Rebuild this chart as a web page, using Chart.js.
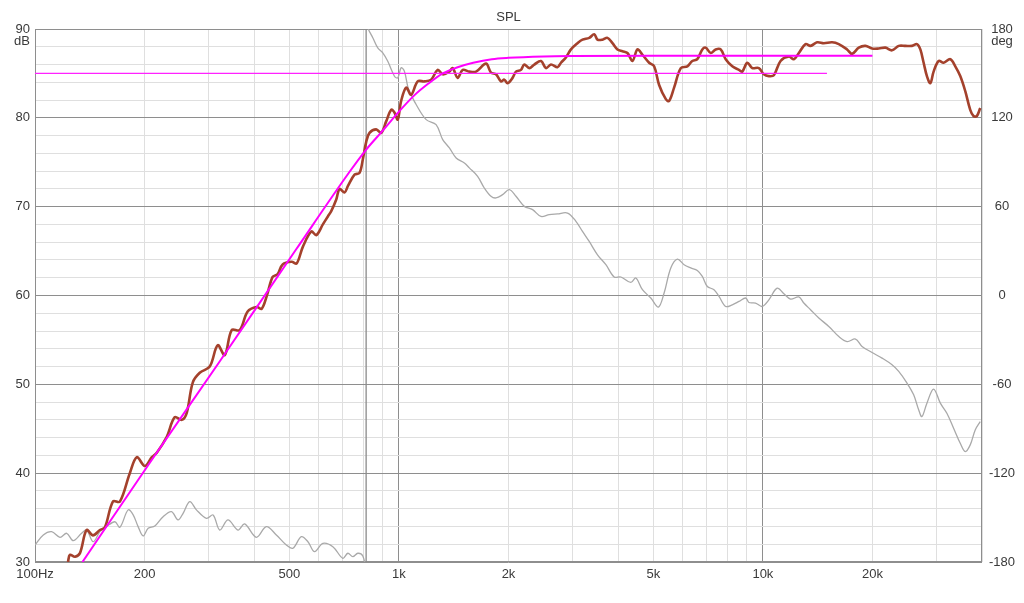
<!DOCTYPE html>
<html>
<head>
<meta charset="utf-8">
<script src="https://cdn.jsdelivr.net/npm/chart.js@4.4.1/dist/chart.umd.min.js"></script>
<style>
  html, body { margin: 0; padding: 0; background: #ffffff; }
  #wrap { width: 1024px; height: 603px; }
</style>
</head>
<body>
<div id="wrap"><canvas id="c" width="1024" height="603"></canvas></div>
<script>
// ---- Data ----
const splFreq = [123.2,124.7,128.8,132.9,138.6,144.3,150.8,155.6,163.7,171.1,182.2,190.5,200.3,209.4,216.1,230.2,242.1,253.1,261.2,271.3,283.6,302.1,317.7,332.1,347.1,365.1,384.0,406.5,419.5,433.0,449.7,464.2,479.1,507.1,523.4,544.7,574.4,592.8,618.0,637.8,651.6,672.6,686.7,708.9,723.7,755.0,779.2,795.6,812.9,830.0,865.9,893.7,922.4,952.1,972.0,992.5,1014,1047,1080,1126,1175,1226,1278,1319,1376,1405,1450,1497,1561,1629,1735,1790,1848,1907,1947,1988,2052,2097,2164,2210,2281,2354,2456,2535,2616,2727,2787,2876,2969,3095,3194,3333,3440,3512,3625,3741,3861,3985,4113,4245,4381,4522,4667,4869,5025,5187,5411,5525,5702,5949,6202,6400,6605,6817,6965,7189,7419,7657,7903,8240,8596,8777,9059,9350,9748,10063,10386,10719,11183,11786,12164,12555,13096,13517,14093,14702,15494,16165,17035,17582,18343,19136,19951,20814,21714,22639,23619,24640,25690,26510,27080,27650,28230,28850,29450,30400,31370,32730,33780,34860,35980,37130,37910,38710,39550];
const splDb = [30.0,30.8,30.6,31.0,33.6,33.0,33.6,33.9,36.8,36.8,40.0,41.8,40.8,41.8,42.3,44.1,46.3,46.0,46.8,50.2,51.3,52.0,54.4,53.3,56.1,56.1,58.2,58.7,58.5,59.9,62.1,62.4,63.5,63.8,63.6,65.5,67.2,66.8,68.0,68.9,69.5,70.8,72.0,71.6,72.3,73.6,73.8,75.3,77.3,78.3,78.7,78.3,79.6,80.9,80.6,79.8,81.9,83.4,82.6,84.1,84.1,84.3,85.4,84.9,85.2,85.6,84.5,85.4,85.2,85.2,86.1,85.1,84.9,84.1,84.3,83.9,84.5,85.2,85.4,86.0,85.6,86.0,86.4,85.6,86.0,85.7,86.2,86.8,87.7,88.4,88.8,89.0,89.4,88.8,88.8,89.0,88.4,87.7,87.5,87.3,86.4,87.7,87.1,86.2,85.8,83.7,82.1,81.9,83.4,85.6,85.8,86.4,86.6,87.7,87.9,87.3,87.7,87.7,86.6,85.8,85.4,85.2,86.2,85.6,85.6,84.9,84.7,84.8,86.4,86.9,86.6,87.3,88.3,88.1,88.5,88.4,88.5,88.3,87.7,87.2,87.9,88.1,87.8,87.8,87.9,87.6,88.1,88.1,88.1,88.3,87.7,86.2,84.7,83.9,85.2,86.4,86.2,86.6,85.8,84.7,83.0,80.9,80.2,80.2,81.1];

const targetFreq = [135,207,322,522,731,812,900,1000,1100,1200,1320,1450,1600,1800,2000,2500,3000,5000,20000];
const targetDb   = [30.0,41.2,52.6,65.2,73.9,76.4,78.5,80.7,82.5,83.8,85.0,85.7,86.2,86.6,86.75,86.9,86.95,87.0,87.0];

const refFreq = [100, 15000];
const refDb   = [85, 85];

const phaseFreq = [100,105.4,111.1,117.1,122.2,127.4,134.3,138.6,144.5,150.8,157.3,165.8,171.1,180.3,186.1,192.0,198.2,204.6,213.4,224.9,237.1,247.2,255.2,266.2,277.7,295.9,308.5,321.8,339.1,361.2,376.8,405.7,432.2,460.4,490.4,511.3,539.2,562.2,586.5,618.0,658.3,701.3,723.7,746.9,770.9,795.6,812.0,812.5,824.8,847.5,874.7,902.8,931.8,972.0,992.5,1014,1035,1057,1069,1115,1188,1265,1319,1376,1436,1513,1561,1645,1716,1790,1848,1927,2010,2097,2210,2329,2456,2588,2727,2906,3064,3194,3333,3512,3704,3903,4072,4337,4476,4667,4921,5164,5353,5584,5823,6074,6336,6605,6817,7036,7340,7576,7903,8240,8596,8968,9157,9547,9956,10386,10945,11419,11912,12555,12956,13517,14245,15174,16165,17035,17964,18730,19951,21253,22639,23619,24890,25960,26790,27350,28230,29450,30730,32030,33420,34860,35980,37130,38320,39550];
const phaseDeg = [-168.5,-161.7,-159.5,-163.3,-160.6,-165.6,-160.6,-158.4,-166.3,-159.5,-156.1,-152.8,-156.5,-144.8,-148.2,-156.1,-162.4,-157.2,-155.7,-149.4,-146.0,-151.6,-147.1,-139.2,-144.8,-150.5,-148.2,-158.4,-151.6,-158.4,-154.3,-163.3,-156.1,-161.7,-168.5,-170.7,-162.9,-166.3,-173.0,-167.4,-169.7,-177.5,-174.1,-176.4,-174.1,-175.9,-185,185,179.7,174.1,167.3,163.9,158.2,148.1,147.0,153.8,151.5,141.3,137.9,129.0,118.8,115.4,105.3,99.7,92.9,89.5,86.2,80.5,72.6,67.0,65.9,68.1,71.5,67.0,60.2,58.0,53.4,54.6,55.1,55.7,50.1,43.3,36.5,27.5,20.8,12.5,12.5,8.8,11.8,3.9,-1.7,-7.8,1.7,18.6,24.6,20.8,18.6,16.9,12.9,6.1,3.9,-0.6,-7.4,-6.3,-4.0,-1.7,-4.7,-5.1,-7.4,-2.9,5.0,1.2,-2.4,-1.0,-5.1,-9.6,-15.2,-20.9,-27.7,-31.1,-29.4,-34.4,-38.5,-42.3,-46.8,-51.3,-59.2,-67.1,-77.2,-81.8,-72.7,-63.2,-72.7,-79.5,-89.6,-99.8,-105.4,-100.9,-90.8,-85.2];

const xGridValues = [100,200,300,400,500,600,700,800,900,1000,2000,3000,4000,5000,6000,7000,8000,9000,10000,20000,30000,40000];
const xLabelValues = [100,200,500,1000,2000,5000,10000,20000];
const xLabelTexts  = ['100Hz','200','500','1k','2k','5k','10k','20k'];
const dbTickLabels = [30,40,50,60,70,80,90];
const degTickLabels = [-180,-120,-60,0,60,120,180];

// ---- Chart ----
const pts = (xs, ys) => xs.map((x, i) => ({ x: x, y: ys[i] }));
// split the phase trace where it wraps from -180 to +180
let wrapIdx = 1;
while (wrapIdx < phaseDeg.length && Math.abs(phaseDeg[wrapIdx] - phaseDeg[wrapIdx - 1]) < 180) wrapIdx++;
const phaseAll = pts(phaseFreq, phaseDeg);
const phaseLow = phaseAll.slice(0, wrapIdx);
const phaseHigh = phaseAll.slice(wrapIdx);
const phaseWrap = phaseAll.slice(wrapIdx - 1, wrapIdx + 1);

const MAJOR = '#8e8e8e';
const MINOR = '#dfdfdf';
const TEXT = '#3a3a3a';
Chart.defaults.font.family = "'Liberation Sans', Arial, sans-serif";
Chart.defaults.font.size = 13;
Chart.defaults.color = TEXT;

const extras = {
  id: 'extras',
  beforeDatasetsDraw(chart) {
    const a = chart.chartArea, c = chart.ctx;
    c.save();
    c.strokeStyle = MAJOR;
    c.lineWidth = 1;
    c.strokeRect(Math.round(a.left) + 0.5, Math.round(a.top) + 0.5,
                 Math.round(a.right - a.left) - 1, Math.round(a.bottom - a.top) - 1);
    c.restore();
  },
  afterDraw(chart) {
    const a = chart.chartArea, c = chart.ctx;
    c.save();
    c.fillStyle = TEXT;
    c.font = "13px 'Liberation Sans', Arial, sans-serif";
    c.textBaseline = 'middle';
    c.textAlign = 'center';
    c.fillText('SPL', (a.left + a.right) / 2, 17);
    c.textAlign = 'right';
    c.fillText('dB', a.left - 5, 41);
    c.textAlign = 'center';
    c.fillText('deg', a.right + 20, 41);
    c.restore();
  }
};

new Chart(document.getElementById('c'), {
  type: 'line',
  data: {
    datasets: [
      { label: 'Target', data: pts(targetFreq, targetDb), yAxisID: 'y', order: 0,
        borderColor: '#ff00ff', borderWidth: 2, pointRadius: 0, cubicInterpolationMode: 'monotone' },
      { label: 'Reference', data: pts(refFreq, refDb), yAxisID: 'y', order: 1,
        borderColor: '#ff22ff', borderWidth: 1.2, pointRadius: 0 },
      { label: 'SPL', data: pts(splFreq, splDb), yAxisID: 'y', order: 2,
        borderColor: '#a4412c', borderWidth: 2.6, pointRadius: 0, tension: 0.35 },
      { label: 'Phase', data: phaseLow, yAxisID: 'yPhase', order: 3,
        borderColor: '#a9a9a9', borderWidth: 1.3, pointRadius: 0, tension: 0.35 },
      { label: 'Phase wrap', data: phaseWrap, yAxisID: 'yPhase', order: 3,
        borderColor: '#8a8a8a', borderWidth: 1.3, pointRadius: 0, tension: 0 },
      { label: 'Phase 2', data: phaseHigh, yAxisID: 'yPhase', order: 3,
        borderColor: '#a9a9a9', borderWidth: 1.3, pointRadius: 0, tension: 0.35 }
    ]
  },
  options: {
    responsive: false,
    animation: false,
    devicePixelRatio: 1,
    layout: { padding: { top: 29, left: 0, right: 0, bottom: 0 } },
    plugins: { legend: { display: false }, title: { display: false }, tooltip: { enabled: false } },
    scales: {
      x: {
        type: 'logarithmic', min: 100, max: 40000,
        afterFit: (s) => { s.height = 41; },
        afterBuildTicks: (s) => { s.ticks = xGridValues.map(v => ({ value: v })); },
        ticks: {
          autoSkip: false, maxRotation: 0, padding: 5, color: TEXT,
          callback: (v) => { const i = xLabelValues.indexOf(v); return i >= 0 ? xLabelTexts[i] : ''; }
        },
        grid: {
          drawTicks: false,
          color: (ctx) => { const v = ctx.tick && ctx.tick.value; return (v === 100 || v === 1000 || v === 10000) ? MAJOR : MINOR; }
        },
        border: { display: false }
      },
      y: {
        type: 'linear', position: 'left', min: 30, max: 90,
        afterFit: (s) => { s.width = 35; },
        ticks: {
          stepSize: 2, autoSkip: false, padding: 5, color: TEXT,
          callback: (v) => dbTickLabels.includes(v) ? String(v) : ''
        },
        grid: {
          drawTicks: false,
          color: (ctx) => (ctx.tick && ctx.tick.value % 10 === 0) ? MAJOR : MINOR
        },
        border: { display: false }
      },
      yPhase: {
        type: 'linear', position: 'right', min: -180, max: 180,
        afterFit: (s) => { s.width = 42; },
        afterBuildTicks: (s) => { s.ticks = degTickLabels.map(v => ({ value: v })); },
        ticks: { autoSkip: false, padding: 7, crossAlign: 'center', color: TEXT,
                 callback: (v) => String(v) },
        grid: { drawOnChartArea: false, drawTicks: false },
        border: { display: false }
      }
    }
  },
  plugins: [extras]
});
</script>
</body>
</html>
